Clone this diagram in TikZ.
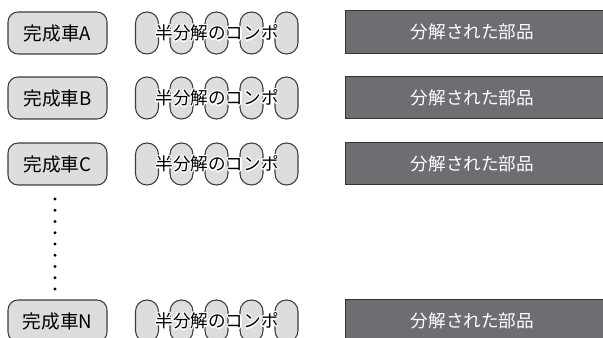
\documentclass[tikz,border=0pt]{standalone}
\usepackage{fontspec}
\newfontfamily\jp{Noto Sans CJK JP}
\definecolor{boxfill}{HTML}{DCDDDF}
\definecolor{boxline}{HTML}{3C3C3C}
\definecolor{darkfill}{HTML}{6D6E71}
\definecolor{darkline}{HTML}{333333}
\begin{document}
\begin{tikzpicture}[x=0.75pt,y=-0.75pt,
  carbox/.style={draw=boxline,fill=boxfill,line width=0.8pt,rounded corners=7.5pt,
    minimum width=74.25pt,minimum height=31.5pt,inner sep=0pt,
    font=\jp\fontsize{14}{15}\selectfont},
  capsule/.style={draw=boxline,fill=boxfill,line width=0.8pt,rounded corners=8.5pt,
    minimum width=17.25pt,minimum height=31.5pt,inner sep=0pt},
  halo/.style={text=white,font=\jp\fontsize{13.2}{15}\selectfont,inner sep=0pt},
  comptext/.style={text=black,font=\jp\fontsize{13.2}{15}\selectfont,inner sep=0pt},
  partsbox/.style={draw=darkline,fill=darkfill,line width=0.8pt,text=white,
    minimum width=193.5pt,minimum height=32pt,inner sep=0pt,anchor=west,
    font=\jp\fontsize{13.2}{15}\selectfont},
  dot/.style={circle,fill=black,inner sep=0pt,minimum size=2.4pt}
]
\useasboundingbox (0,0) rectangle (603,338);
\clip (0,0) rectangle (603,338);
\foreach \r/\y/\yp in {A/33/32, B/98/97.5, C/164/163.5, N/321/320.5}{
  \node[carbox] (car\r) at (57.5,\y) {完成車\r};
  \foreach \i/\x in {1/147, 2/181.5, 3/216.5, 4/251.5, 5/286.5}{
    \node[capsule] (cap\r\i) at (\x,\y) {};
  }
  \foreach \dx/\dy in {1.3/0,-1.3/0,0/1.3,0/-1.3,0.95/0.95,-0.95/0.95,0.95/-0.95,-0.95/-0.95}{
    \node[halo] at (217+\dx,\y+\dy) {半分解のコンポ};
  }
  \node[comptext] (comp\r) at (217,\y) {半分解のコンポ};
  \node[partsbox] (parts\r) at (345,\yp) {\hspace*{-3pt}分解された部品};
}
\foreach \k in {0,...,8}{
  \node[dot] (d\k) at (55,199+11.25*\k) {};
}
\end{tikzpicture}
\end{document}
